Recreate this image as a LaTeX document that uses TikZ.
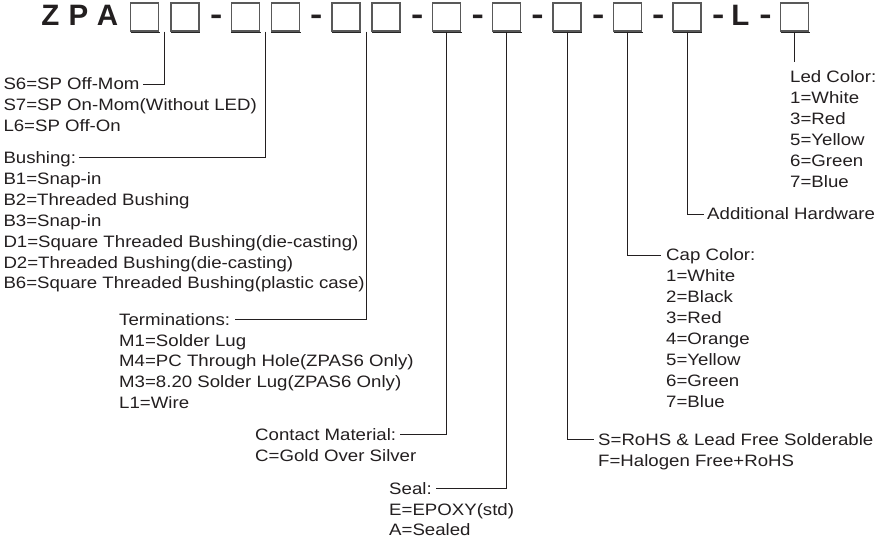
\documentclass[tikz,border=0pt]{standalone}
\usepackage{fontspec}
\setmainfont{Liberation Sans}[FakeStretch=1.13]
\newfontfamily\hdfont{Liberation Sans}
\usetikzlibrary{calc}
\definecolor{ink}{HTML}{231F20}
\begin{document}
\begin{tikzpicture}[x=1pt,y=-1pt,
  txt/.style={inner sep=0pt, anchor=base west, text height=11.7pt, text depth=0pt,
    font=\fontsize{16.5}{20}\selectfont, text=ink},
  slot/.style={draw=black!65, line width=1.1pt, minimum size=28pt, inner sep=0pt},
  slotshadow/.style={draw=black!85, line width=1.2pt},
  conn/.style={draw=ink, line width=0.9pt},
  big/.style={inner sep=0pt, anchor=base west, font=\hdfont\bfseries\fontsize{29.5}{30}\selectfont, text=ink},
  sep/.style={inner sep=0pt, anchor=base, font=\hdfont\bfseries\fontsize{29.5}{30}\selectfont, text=ink}]
\fill[white] (0,0) rectangle (875,543);
\useasboundingbox (0,0) rectangle (875,543);

% code line
\node[big] (zpa) at (41.1,26) {Z\hspace{9.4pt}P\hspace{8.5pt}A};
\foreach \n/\x in {b1/144.5, b2/185, b3/245.2, b4/285.3, b5/346, b6/386, b7/446.7,
                   b8/506.7, b9/567, b10/627.5, b11/687, b12/794.5}{
  \node[slot] (\n) at (\x,17) {};
  \draw[slotshadow] ([xshift=0.6pt,yshift=-1.1pt]\n.south west) -- ([xshift=0.8pt,yshift=-1.1pt]\n.south east);
}
\foreach \n/\x in {d1/216.3, d2/316.2, d3/417.3, d4/477.8, d5/537.5, d6/598.3,
                   d7/658.3, d8/718.3, d9/765.5}
  \node[sep] (\n) at (\x,24.5) {\scalebox{1.25}[1]{-}};
\node[big] (ell) at (731.1,26) {L};

% S6 block
\node[txt] (s6) at (3.3,89.9) {S6=SP Off-Mom};
\foreach \t [count=\i] in {S7=SP On-Mom(Without LED), L6=SP Off-On}
  \node[txt] (s6l\i) at (3.3,89.9+20.9*\i) {\t};

% Bushing block
\node[txt] (bush) at (3.3,163.5) {Bushing:};
\foreach \t [count=\i] in {B1=Snap-in, B2=Threaded Bushing, B3=Snap-in,
    D1=Square Threaded Bushing(die-casting), D2=Threaded Bushing(die-casting),
    B6=Square Threaded Bushing(plastic case)}
  \node[txt] (bushl\i) at (3.3,163.5+20.9*\i) {\t};

% Terminations block
\node[txt] (term) at (119,325.1) {Terminations:};
\foreach \t [count=\i] in {M1=Solder Lug, M4=PC Through Hole(ZPAS6 Only),
    M3=8.20 Solder Lug(ZPAS6 Only), L1=Wire}
  \node[txt] (terml\i) at (119,325.1+20.9*\i) {\t};

% Contact material
\node[txt] (cont) at (255,440.1) {Contact Material:};
\node[txt] (contl1) at (255,461) {C=Gold Over Silver};

% Seal
\node[txt] (seal) at (389,494.1) {Seal:};
\foreach \t [count=\i] in {E=EPOXY(std), A=Sealed}
  \node[txt] (seall\i) at (389,494.1+20.9*\i) {\t};

% RoHS
\node[txt] (rohs) at (598,445.4) {S=RoHS \& Lead Free Solderable};
\node[txt] (rohsl1) at (598,466.3) {F=Halogen Free+RoHS};

% Cap color
\node[txt] (cap) at (666,260.9) {Cap Color:};
\foreach \t [count=\i] in {1=White, 2=Black, 3=Red, 4=Orange, 5=Yellow, 6=Green, 7=Blue}
  \node[txt] (capl\i) at (666,260.9+20.9*\i) {\t};

% Additional hardware
\node[txt] (hw) at (707,219.9) {Additional Hardware};

% Led color
\node[txt] (led) at (790,82.5) {Led Color:};
\foreach \t [count=\i] in {1=White, 3=Red, 5=Yellow, 6=Green, 7=Blue}
  \node[txt] (ledl\i) at (790,82.5+20.9*\i) {\t};

% connectors
\draw[conn] ($(b1.south east)!0.5!(b2.south west)$) |- ([xshift=3pt]s6.east);
\draw[conn] ($(b3.south east)!0.5!(b4.south west)$) |- ([xshift=3pt]bush.east);
\draw[conn] ($(b5.south east)!0.5!(b6.south west)$) |- ([xshift=5pt]term.east);
\draw[conn] (b7.south) |- ([xshift=4pt]cont.east);
\draw[conn] (b8.south) |- ([xshift=4pt]seal.east);
\draw[conn] (b9.south) |- ([xshift=-4.5pt]rohs.west);
\draw[conn] (b10.south) |- ([xshift=-5pt]cap.west);
\draw[conn] (b11.south) |- ([xshift=-3pt]hw.west);
\draw[conn] (b12.south) -- ([yshift=9pt]b12.south |- led.north);
\end{tikzpicture}
\end{document}
